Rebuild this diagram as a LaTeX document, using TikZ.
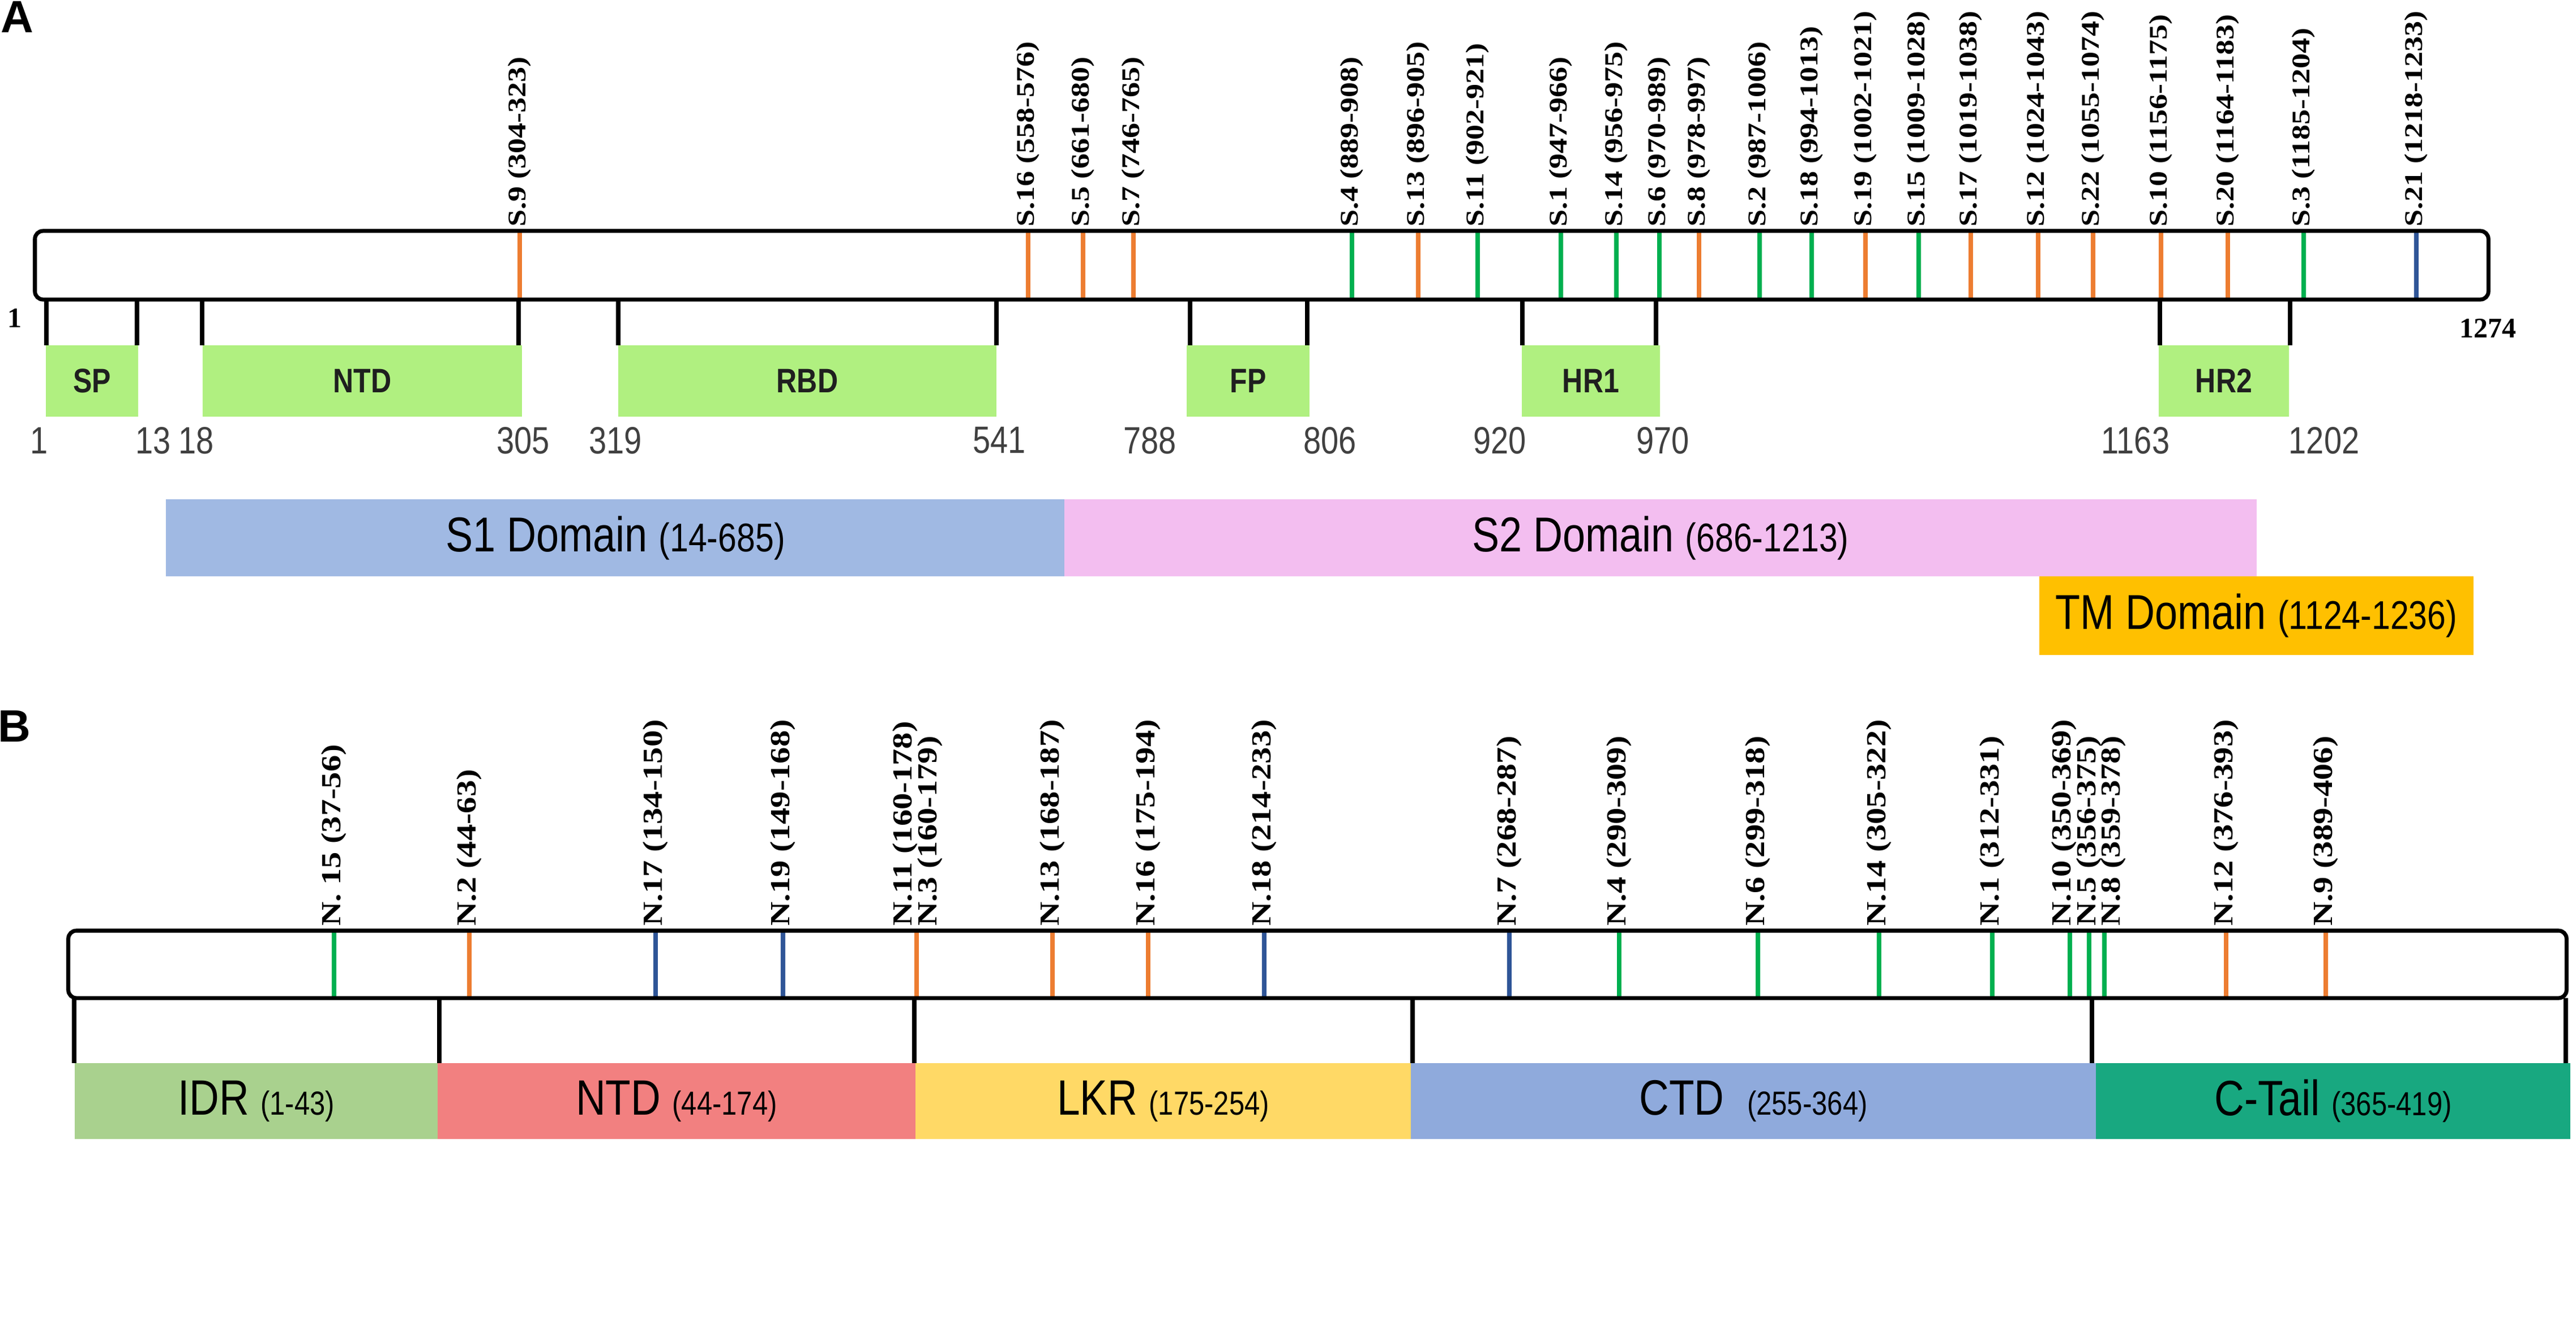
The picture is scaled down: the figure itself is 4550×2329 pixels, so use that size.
\documentclass[tikz,border=0pt]{standalone}
\usepackage{fontspec}
\setmainfont{Liberation Serif}
\newfontfamily\arial{Liberation Sans}
\definecolor{mo}{HTML}{ED7D31}
\definecolor{mg}{HTML}{00B050}
\definecolor{mb}{HTML}{2F5597}
\definecolor{gfill}{RGB}{176,240,128}
\definecolor{sonec}{RGB}{160,185,227}
\definecolor{stwoc}{RGB}{243,190,240}
\definecolor{tmc}{HTML}{FFC000}
\definecolor{idrc}{RGB}{169,209,142}
\definecolor{ntdc}{RGB}{242,128,128}
\definecolor{lkrc}{HTML}{FFD966}
\definecolor{ctdc}{HTML}{8FAADC}
\definecolor{ctailc}{RGB}{24,168,128}
\newcommand\vst[1]{\scalebox{1}[1.2]{#1}}
\newcommand\hst[1]{\scalebox{1.2}[1]{#1}}
\newcommand\bigA{\fontsize{20.49}{21}\selectfont}
\newcommand\smlA{\fontsize{16.79}{17}\selectfont}
\newcommand\bigB{\fontsize{20.77}{21}\selectfont}
\newcommand\smlB{\fontsize{13.94}{14}\selectfont}
\begin{document}
\begin{tikzpicture}[x=0.01cm, y=-0.01cm,
  bar/.style={draw=black, line width=2pt, rounded corners=4pt, inner sep=0pt},
  mkline/.style={line width=2.3pt},
  tickline/.style={line width=2.1pt, draw=black},
  slab/.style={rotate=90, anchor=west, inner sep=0pt, font=\bfseries\fontsize{12.8}{13}\selectfont},
  nlab/.style={rotate=90, anchor=west, inner sep=0pt, font=\bfseries\fontsize{13.87}{14}\selectfont},
  gbox/.style={fill=gfill, inner sep=0pt, minimum height=1.26cm, font=\arial\bfseries\fontsize{14.23}{15}\selectfont, text=black!88},
  num/.style={inner sep=0pt, font=\arial\fontsize{15.93}{16}\selectfont, text=black!75},
  dbox/.style={inner sep=0pt, text=black, font=\arial},
  panel/.style={inner sep=0pt, anchor=north west, font=\arial\bfseries\fontsize{22.76}{23}\selectfont},
  endlab/.style={inner sep=0pt, font=\bfseries\fontsize{14.23}{15}\selectfont}
]
\useasboundingbox[fill=white] (0,0) rectangle (4550,2329);

% ---------------- Panel A ----------------
\node[panel] (pA) at (1,2) {A};

% markers
\foreach \x/\c/\t in {
  918/mo/{S.9 (304-323)}, 1816/mo/{S.16 (558-576)}, 1913/mo/{S.5 (661-680)},
  2002/mo/{S.7 (746-765)}, 2388/mg/{S.4 (889-908)}, 2505/mo/{S.13 (896-905)},
  2610/mg/{S.11 (902-921)}, 2757/mg/{S.1 (947-966)}, 2855/mg/{S.14 (956-975)},
  2931/mg/{S.6 (970-989)}, 3001/mo/{S.8 (978-997)}, 3108/mg/{S.2 (987-1006)},
  3200/mg/{S.18 (994-1013)}, 3295/mo/{S.19 (1002-1021)}, 3389/mg/{S.15 (1009-1028)},
  3481/mo/{S.17 (1019-1038)}, 3600/mo/{S.12 (1024-1043)}, 3697/mo/{S.22 (1055-1074)},
  3817/mo/{S.10 (1156-1175)}, 3935/mo/{S.20 (1164-1183)}, 4069/mg/{S.3 (1185-1204)},
  4268/mb/{S.21 (1218-1233)}}{
  \draw[mkline, draw=\c] (\x,408) -- (\x,529);
  \node[slab] (sa\x) at (\x,401) {\hst{\t}};
}

\node[bar, minimum width=43.31cm, minimum height=1.21cm] (barA) at (2228.5,468.5) {};
\node[endlab] (oneA) at (26,562) {1};
\node[endlab] (endA) at (4394,580) {1274};

% structural boxes
\node[gbox, minimum width=1.63cm] (SP)  at (162.5,673) {\vst{SP}};
\node[gbox, minimum width=5.64cm] (NTDa) at (640,673) {\vst{NTD}};
\node[gbox, minimum width=6.68cm] (RBD) at (1426,673) {\vst{RBD}};
\node[gbox, minimum width=2.17cm] (FP)  at (2204.5,673) {\vst{FP}};
\node[gbox, minimum width=2.44cm] (HR1) at (2810,673) {\vst{HR1}};
\node[gbox, minimum width=2.30cm] (HR2) at (3928,673) {\vst{HR2}};

\foreach \x in {82,242,357,916,1092,1760,2102,2309,2689,2925,3815,4045}{
  \draw[tickline] (\x,529) -- (\x,610);
}

\foreach \x/\t in {69/1, 271/13, 347/18, 924/305, 1087/319, 1765/541, 2031/788,
  2349/806, 2649/920, 2937/970, 3772/1163, 4105/1202}{
  \node[num] (n\x) at (\x,778) {\vst{\t}};
}

\node[dbox, fill=sonec, minimum width=15.88cm, minimum height=1.36cm] (S1) at (1087,950)
  {\vst{\bigA S1 Domain \smlA(14-685)}};
\node[dbox, fill=stwoc, minimum width=21.04cm, minimum height=1.36cm] (S2) at (2933,950)
  {\vst{\bigA S2 Domain \smlA(686-1213)}};
\node[dbox, fill=tmc, minimum width=7.67cm, minimum height=1.39cm] (TM) at (3985.5,1087.5)
  {\vst{\bigA TM Domain \smlA(1124-1236)}};

% ---------------- Panel B ----------------
\node[panel] (pB) at (-4,1255) {B};

\foreach \x/\lx/\c/\t in {
  590/590/mg/{N. 15 (37-56)}, 829/829/mo/{N.2 (44-63)}, 1158/1158/mb/{N.17 (134-150)},
  1383/1383/mb/{N.19 (149-168)}, 1619/1599/mo/{N.11 (160-178)}, 1619/1643/mo/{N.3 (160-179)},
  1859/1859/mo/{N.13 (168-187)}, 2028/2028/mo/{N.16 (175-194)}, 2233/2233/mb/{N.18 (214-233)},
  2666/2666/mb/{N.7 (268-287)}, 2860/2860/mg/{N.4 (290-309)}, 3105/3105/mg/{N.6 (299-318)},
  3319/3319/mg/{N.14 (305-322)}, 3519/3519/mg/{N.1 (312-331)}, 3656/3646/mg/{N.10 (350-369)},
  3690/3690/mg/{N.5 (356-375)}, 3717/3733/mg/{N.8 (359-378)}, 3932/3932/mo/{N.12 (376-393)},
  4108/4108/mo/{N.9 (389-406)}}{
  \draw[mkline, draw=\c] (\x,1644) -- (\x,1763);
  \node[nlab] (nb\lx) at (\lx,1636) {\hst{\t}};
}

\node[bar, minimum width=44.10cm, minimum height=1.19cm] (barB) at (2327,1703.5) {};

\foreach \x in {131,776,1615,2495,3695,4532}{
  \draw[tickline] (\x,1763) -- (\x,1878);
}

\node[dbox, fill=idrc, minimum width=6.41cm, minimum height=1.34cm] (IDR) at (452.5,1945)
  {\vst{\bigB IDR \smlB(1-43)}};
\node[dbox, fill=ntdc, minimum width=8.44cm, minimum height=1.34cm] (NTDb) at (1195,1945)
  {\vst{\bigB NTD \smlB(44-174)}};
\node[dbox, fill=lkrc, minimum width=8.75cm, minimum height=1.34cm] (LKR) at (2054.5,1945)
  {\vst{\bigB LKR \smlB(175-254)}};
\node[dbox, fill=ctdc, minimum width=12.10cm, minimum height=1.34cm] (CTD) at (3097,1945)
  {\vst{\bigB CTD\ \ \smlB(255-364)}};
\node[dbox, fill=ctailc, minimum width=8.38cm, minimum height=1.34cm] (CTail) at (4121,1945)
  {\vst{\bigB C-Tail \smlB(365-419)}};
\end{tikzpicture}
\end{document}
